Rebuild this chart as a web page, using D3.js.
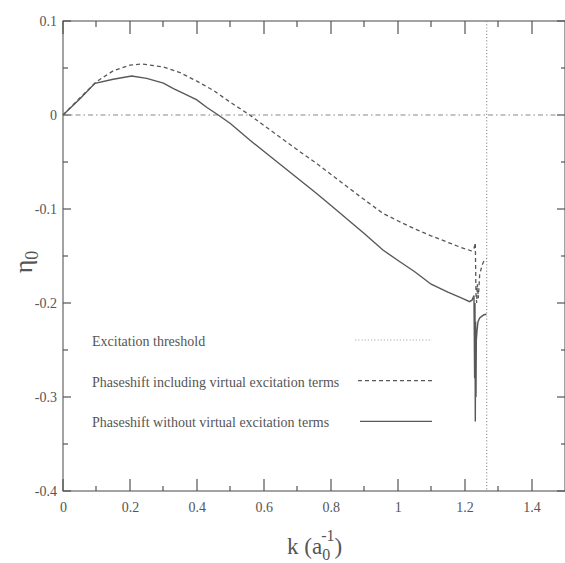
<!DOCTYPE html>
<html>
<head>
<meta charset="utf-8">
<script src="https://cdn.jsdelivr.net/npm/d3@7"></script>
<style>
body{margin:0;background:#fff;overflow:hidden;}
svg{display:block;}
svg text{font-family:"Liberation Serif","DejaVu Serif",serif;fill:#555;}
</style>
</head>
<body>
<svg id="chart"></svg>
<script>
// phaseshift including virtual excitation terms (dashed)
var kIncl   = [0,0.05,0.1,0.15,0.2,0.235,0.3,0.35,0.4,0.45,0.5,0.558,0.6,0.7,0.757,0.8,0.9,0.956,1.0,1.05,1.1,1.15,1.19,1.22,1.228,1.232,1.234,1.236,1.238,1.241,1.245,1.252,1.258,1.265]
var etaIncl = [0,0.018,0.0355,0.047,0.053,0.0543,0.051,0.045,0.036,0.026,0.0135,0,-0.011,-0.037,-0.0514,-0.063,-0.09,-0.1046,-0.1125,-0.121,-0.1285,-0.1355,-0.141,-0.1445,-0.142,-0.136,-0.19,-0.2,-0.18,-0.195,-0.17,-0.16,-0.155,-0.153]
// phaseshift without virtual excitation terms (solid)
var kNo   = [0,0.05,0.0955,0.15,0.205,0.25,0.3,0.33,0.36,0.4,0.43,0.464,0.5,0.558,0.6,0.7,0.757,0.8,0.9,0.956,1.0,1.05,1.1,1.15,1.19,1.215,1.222,1.228,1.23,1.231,1.232,1.233,1.234,1.235,1.237,1.24,1.245,1.252,1.258,1.265]
var etaNo = [0,0.017,0.0337,0.038,0.0415,0.039,0.034,0.028,0.023,0.016,0.008,0,-0.009,-0.0266,-0.0386,-0.067,-0.0833,-0.096,-0.126,-0.1436,-0.1545,-0.1665,-0.18,-0.1885,-0.1945,-0.1986,-0.197,-0.192,-0.28,-0.2,-0.326,-0.22,-0.3,-0.24,-0.23,-0.22,-0.216,-0.214,-0.2125,-0.212]
var threshold = 1.266
var xTicks = [0,0.2,0.4,0.6,0.8,1,1.2,1.4]
var xMinor = [0.1,0.3,0.5,0.7,0.9,1.1,1.3]
var yTicks = [0.1,0,-0.1,-0.2,-0.3,-0.4]
var yMinor = [0.05,-0.05,-0.15,-0.25,-0.35]
var legendNames = ["Excitation threshold","Phaseshift including virtual excitation terms","Phaseshift without virtual excitation terms"]

var size = {width:565,height:563}
var margins = {left:63,right:0,top:21,bottom:72}
var graph = {width:size.width-margins.left-margins.right,height:size.height-margins.top-margins.bottom}

var svg = d3.select("#chart").attr("width",size.width).attr("height",size.height)

var xScale = d3.scaleLinear().domain([0,1.5]).range([margins.left,margins.left+graph.width])
var yScale = d3.scaleLinear().domain([-0.4,0.1]).range([margins.top+graph.height,margins.top])

var axisColor = "#666"
var fmt = function(d){return String(d)}

// frame
svg.append("rect")
    .attr("x",xScale(0)).attr("y",yScale(0.1))
    .attr("width",xScale(1.5)-xScale(0)).attr("height",yScale(-0.4)-yScale(0.1))
    .attr("fill","none").attr("stroke",axisColor).attr("stroke-width",1.2)

// tick marks pointing inward
var drawXTicks = function(values,len,base,dir)
{
    svg.append("g").selectAll("rect")
        .data(values)
        .enter()
        .append("rect")
        .attr("x",function(d){return Math.round(xScale(d))-0.6})
        .attr("y",dir>0 ? base : base-len)
        .attr("width",1.2)
        .attr("height",len)
        .attr("fill","#555")
}
var drawYTicks = function(values,len,base,dir)
{
    svg.append("g").selectAll("rect")
        .data(values)
        .enter()
        .append("rect")
        .attr("y",function(d){return Math.round(yScale(d))-0.6})
        .attr("x",dir>0 ? base : base-len)
        .attr("height",1.2)
        .attr("width",len)
        .attr("fill","#555")
}
drawXTicks(xTicks,12,yScale(-0.4),-1)
drawXTicks(xMinor,5,yScale(-0.4),-1)
drawXTicks(xTicks,13,yScale(0.1),1)
drawXTicks(xMinor,6,yScale(0.1),1)
drawYTicks(yTicks,8,xScale(0),1)
drawYTicks(yMinor,5,xScale(0),1)
drawYTicks(yTicks,8,xScale(1.5),-1)
drawYTicks(yMinor,4,xScale(1.5),-1)

// tick labels
svg.append("g")
    .attr("transform","translate(0,"+yScale(-0.4)+")")
    .call(d3.axisBottom(xScale).tickValues(xTicks).tickSize(0).tickPadding(11).tickFormat(fmt))
svg.append("g")
    .attr("transform","translate("+xScale(0)+",0)")
    .call(d3.axisLeft(yScale).tickValues(yTicks).tickSize(0).tickPadding(6).tickFormat(fmt))
svg.selectAll(".domain").remove()
svg.selectAll(".tick text").attr("font-size",14).attr("fill","#555")

// zero line (dash-dot) and threshold (dotted)
svg.append("line")
    .attr("x1",xScale(0)).attr("x2",xScale(1.5))
    .attr("y1",yScale(0)).attr("y2",yScale(0))
    .attr("stroke","#888").attr("stroke-width",1).attr("stroke-dasharray","5,3,1.5,3")
svg.append("line")
    .attr("x1",xScale(threshold)).attr("x2",xScale(threshold))
    .attr("y1",yScale(0.1)).attr("y2",yScale(-0.4))
    .attr("stroke","#999").attr("stroke-width",1.2).attr("stroke-dasharray","1.2,2")

// curves
var lineGen = d3.line()
    .x(function(d){return xScale(d[0])})
    .y(function(d){return yScale(d[1])})

svg.append("path")
    .datum(d3.zip(kIncl,etaIncl))
    .attr("d",lineGen)
    .attr("fill","none").attr("stroke","#585858").attr("stroke-width",1.3).attr("stroke-dasharray","4,3")
svg.append("path")
    .datum(d3.zip(kNo,etaNo))
    .attr("d",lineGen)
    .attr("fill","none").attr("stroke","#585858").attr("stroke-width",1.4)

// legend
var styles = [
    {stroke:"#aaa",dash:"1.2,2",width:1.2},
    {stroke:"#585858",dash:"4,3",width:1.3},
    {stroke:"#585858",dash:null,width:1.4}
]
var legend = svg.append("g").attr("transform","translate(92,340)")
var entries = legend.selectAll("g")
    .data(legendNames)
    .enter()
    .append("g")
    .attr("transform",function(d,i){return "translate(0,"+(i*40.7)+")"})
entries.append("text")
    .text(function(d){return d})
    .attr("y",6)
    .attr("font-size",14)
entries.append("line")
    .attr("x1",function(d,i){return [263,266,268][i]}).attr("x2",340)
    .attr("stroke",function(d,i){return styles[i].stroke})
    .attr("stroke-width",function(d,i){return styles[i].width})
    .attr("stroke-dasharray",function(d,i){return styles[i].dash})

// axis labels
var yl = svg.append("text")
    .attr("transform","translate(32,262) rotate(-90)")
    .attr("text-anchor","middle")
    .attr("font-size",26)
yl.append("tspan").text("η")
yl.append("tspan").text("0").attr("font-size",18).attr("dy",6)

var xl = svg.append("text")
    .attr("x",287).attr("y",554)
    .attr("font-size",23)
xl.append("tspan").text("k (a")
xl.append("tspan").text("0").attr("font-size",16).attr("dy",6)
xl.append("tspan").text("-1").attr("font-size",16).attr("dx",-9).attr("dy",-19)
xl.append("tspan").text(")").attr("dy",13)
</script>
</body>
</html>
